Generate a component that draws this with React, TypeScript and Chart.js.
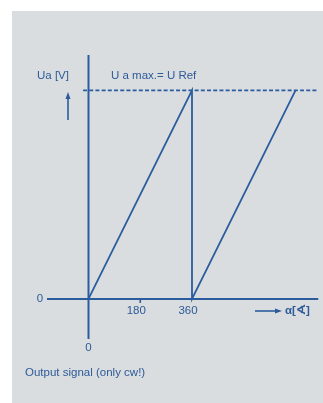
import React, { useEffect, useRef } from "react";
import { Chart, registerables } from "chart.js";

Chart.register(...registerables);

// Angle (degrees) / output voltage (Ua, normalised so Ua max = U Ref = 10)
const signalAngles = [0, 360, 360, 720];
const signalValues = [0, 10, 0, 10];
const refLevel = 10;
const refLineAngles = [-19, 800];
const xAxisRange = [-145, 800];
const yAxisRange = [-1.92, 11.7];
const angleTickValues = [180, 360];
const angleTickLabels = ["180", "360"];

const BLUE = "#2b5d9e";
const TEXT = "#2d5a98";
const PANEL = "#d9dde0";
const FONT = "'Liberation Sans', Arial, sans-serif";

const decorPlugin = {
  id: "decor",
  beforeDraw(chart: any) {
    const ctx = chart.ctx;
    ctx.save();
    ctx.fillStyle = "#ffffff";
    ctx.fillRect(0, 0, chart.width, chart.height);
    ctx.fillStyle = PANEL;
    ctx.fillRect(12, 11, chart.width - 12, chart.height - 11);
    ctx.restore();
  },
  afterDraw(chart: any) {
    const ctx = chart.ctx;
    const xs = chart.scales.x;
    const ys = chart.scales.y;
    const x0 = xs.getPixelForValue(0);
    const y0 = ys.getPixelForValue(0);
    ctx.save();
    ctx.fillStyle = TEXT;
    ctx.strokeStyle = BLUE;
    ctx.font = `11.5px ${FONT}`;
    ctx.textBaseline = "middle";

    // axis titles
    ctx.textAlign = "left";
    ctx.fillText("Ua [V]", 37, 76);
    ctx.fillText("U a max.= U Ref", 111, 76);
    ctx.fillText("Output signal (only cw!)", 25, 373);

    // up arrow
    ctx.lineWidth = 1.6;
    ctx.beginPath();
    ctx.moveTo(68, 120);
    ctx.lineTo(68, 97);
    ctx.stroke();
    ctx.beginPath();
    ctx.moveTo(68, 92);
    ctx.lineTo(65.5, 99);
    ctx.lineTo(70.5, 99);
    ctx.closePath();
    ctx.fill();

    // zero labels
    ctx.textAlign = "center";
    ctx.fillText("0", 40, y0);
    ctx.fillText("0", x0, y0 + 49);

    // angle ticks
    angleTickValues.forEach((v, i) => {
      const px = xs.getPixelForValue(v);
      if (v === 180) {
        ctx.lineWidth = 1.6;
        ctx.beginPath();
        ctx.moveTo(px, y0);
        ctx.lineTo(px, y0 + 4);
        ctx.stroke();
      }
      ctx.fillText(angleTickLabels[i], px - 4, y0 + 12);
    });

    // right arrow + alpha label
    ctx.lineWidth = 1.6;
    ctx.beginPath();
    ctx.moveTo(255, 311);
    ctx.lineTo(276, 311);
    ctx.stroke();
    ctx.beginPath();
    ctx.moveTo(282, 311);
    ctx.lineTo(275, 308.5);
    ctx.lineTo(275, 313.5);
    ctx.closePath();
    ctx.fill();
    ctx.textAlign = "left";
    ctx.font = `bold 11.5px ${FONT}`;
    ctx.fillText("α[∢]", 285, 311);
    ctx.restore();
  },
};

export default function App() {
  const ref = useRef<HTMLCanvasElement | null>(null);
  useEffect(() => {
    if (!ref.current) return;
    const chart = new Chart(ref.current, {
      type: "scatter",
      data: {
        datasets: [
          {
            label: "x-axis",
            data: xAxisRange.map((x) => ({ x, y: 0 })),
            showLine: true,
            borderColor: BLUE,
            borderWidth: 2,
            pointRadius: 0,
          },
          {
            label: "y-axis",
            data: yAxisRange.map((y) => ({ x: 0, y })),
            showLine: true,
            borderColor: BLUE,
            borderWidth: 2,
            pointRadius: 0,
          },
          {
            label: "U Ref",
            data: refLineAngles.map((x) => ({ x, y: refLevel })),
            showLine: true,
            borderColor: BLUE,
            borderWidth: 1.7,
            borderDash: [4, 2.2],
            pointRadius: 0,
          },
          {
            label: "Ua",
            data: signalAngles.map((x, i) => ({ x, y: signalValues[i] })),
            showLine: true,
            borderColor: BLUE,
            borderWidth: 1.8,
            pointRadius: 0,
          },
        ],
      },
      options: {
        animation: false,
        responsive: false,
        events: [],
        layout: { padding: { left: 46.81, right: 4.5, top: 55, bottom: 64 } },
        plugins: { legend: { display: false }, tooltip: { enabled: false }, title: { display: false } },
        scales: {
          x: { type: "linear", min: xAxisRange[0], max: xAxisRange[1], display: false },
          y: { type: "linear", min: yAxisRange[0], max: yAxisRange[1], display: false },
        },
      },
      plugins: [decorPlugin],
    });
    return () => chart.destroy();
  }, []);
  return (
    <div style={{ position: "fixed", left: 0, top: 0, width: 323, height: 403 }}>
      <canvas ref={ref} width={323} height={403} style={{ display: "block" }} />
    </div>
  );
}
